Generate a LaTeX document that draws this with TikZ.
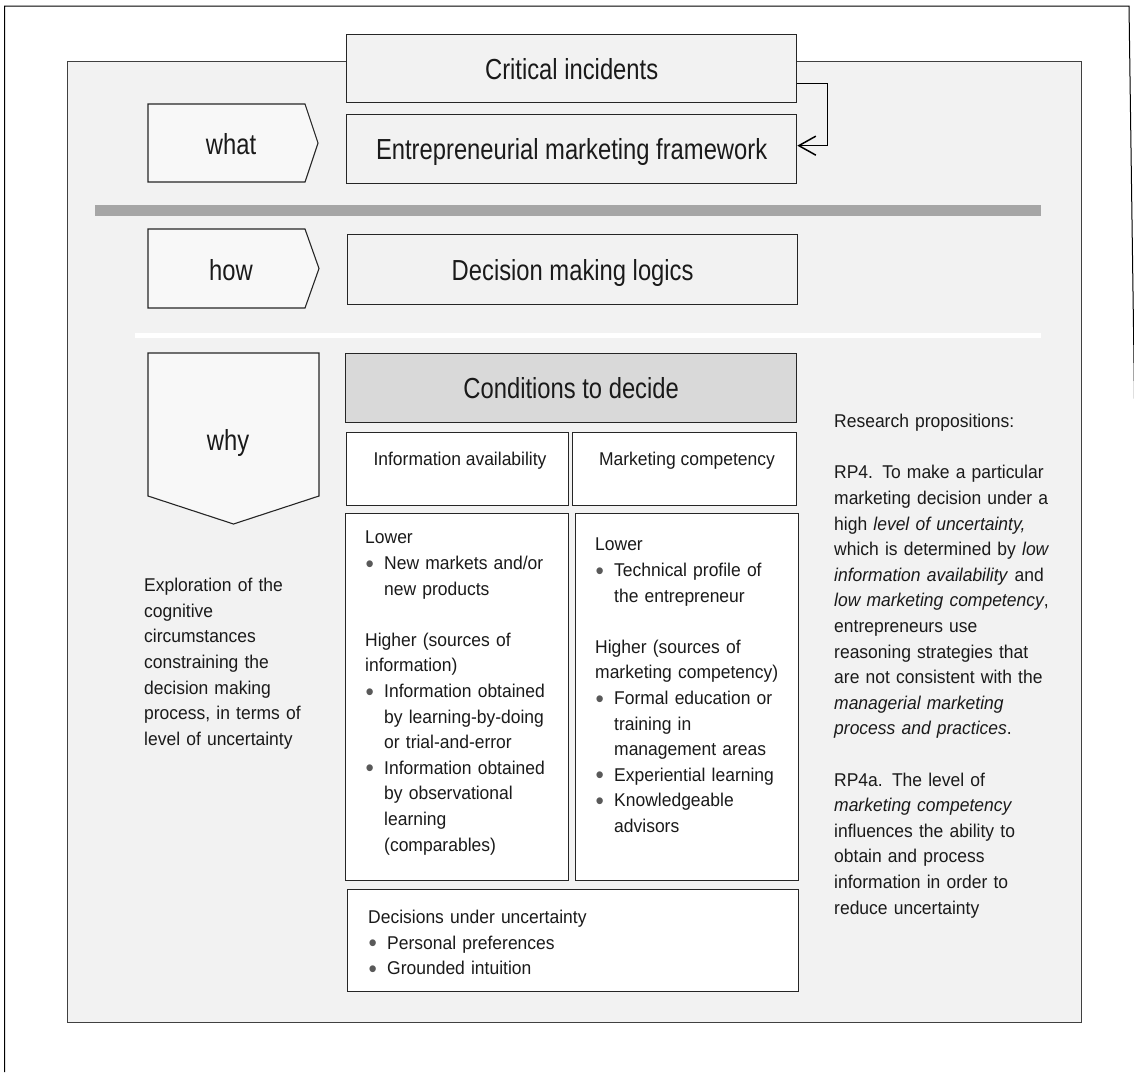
\documentclass[tikz,border=0pt]{standalone}
\usepackage{fontspec}
\setmainfont{Liberation Sans}
\newfontfamily\bodyfont[FakeStretch=0.945]{Liberation Sans}
\newfontfamily\titlefont[FakeStretch=0.82]{Liberation Sans}
\usetikzlibrary{arrows.meta}
\setlength{\parindent}{0pt}
\definecolor{panelfill}{HTML}{F2F2F2}
\definecolor{pentfill}{HTML}{F8F8F8}
\definecolor{condfill}{HTML}{D9D9D9}
\definecolor{barcol}{HTML}{A6A6A6}
\definecolor{boxline}{HTML}{262626}
\definecolor{panelline}{HTML}{404040}
\definecolor{bulgray}{HTML}{595959}
\definecolor{txt}{HTML}{1A1A1A}
\newcommand\bul{\makebox[19pt][l]{\hspace{0.5pt}\raisebox{-2.6pt}{\fontsize{25}{0}\selectfont\textcolor{bulgray}{\textbullet}}}}
\newcommand\ind{\hspace*{19pt}}
\begin{document}
\begin{tikzpicture}[x=1pt,y=-1pt,
  titlebox/.style={draw=boxline, line width=1.3pt, fill=panelfill, inner sep=0pt, anchor=north west,
    font=\titlefont\fontsize{29}{31}\selectfont, text=txt, text height=21pt, text depth=0pt},
  subbox/.style={draw=boxline, line width=1.3pt, fill=white, inner sep=0pt, anchor=north west},
  pent/.style={draw=boxline, line width=1.1pt, fill=pentfill, line join=miter},
  pentlabel/.style={font=\titlefont\fontsize{29}{31}\selectfont, text=txt, anchor=base},
  bodytext/.style={font=\bodyfont\fontsize{18.5}{25.6}\selectfont, text=txt, inner sep=0pt, anchor=north west, align=left},
  headtext/.style={font=\bodyfont\fontsize{18.5}{25.6}\selectfont, text=txt, inner sep=0pt, anchor=base},
  conn/.style={draw=black, line width=1.5pt, -{Straight Barb[length=17pt,width=19pt,line width=1.5pt]}}
]
\useasboundingbox (0,0) rectangle (1134,1072);
% outer frame
\draw[black, line width=1pt] (4.5,1072) -- (4.5,6) -- (1129,6) -- (1134.5,400);
% panel
\node[draw=panelline, line width=1pt, fill=panelfill, minimum width=1014pt, minimum height=961pt, anchor=north west, inner sep=0pt] (panel) at (67,61) {};
% separators
\fill[barcol] (95,205) rectangle (1041,216);
\fill[white] (135,333) rectangle (1041,338);
% pentagons
\draw[pent] (148,104) -- (305,104) -- (318,143) -- (305,182) -- (148,182) -- cycle;
\node[pentlabel] (what) at (231,154) {what};
\draw[pent] (148,229) -- (305,229) -- (319,268.5) -- (305,308) -- (148,308) -- cycle;
\node[pentlabel] (how) at (231,280) {how};
\draw[pent] (148,353) -- (319,353) -- (319,496) -- (233.5,524) -- (148,496) -- cycle;
\node[pentlabel] (why) at (228,450) {why};
% title boxes
\node[titlebox, minimum width=450pt, minimum height=68pt] (crit) at (346,34) {Critical incidents};
\node[titlebox, minimum width=450pt, minimum height=69pt] (emf) at (346,114) {Entrepreneurial marketing framework};
\node[titlebox, minimum width=450pt, minimum height=70pt] (dml) at (347,234) {Decision making logics};
\node[titlebox, fill=condfill, minimum width=451pt, minimum height=69pt] (cond) at (345,353) {Conditions to decide};
% connector
\draw[conn] ([yshift=-15pt]crit.east) -- ++(30,0) |- ([yshift=3.5pt]emf.east);
% sub boxes
\node[subbox, minimum width=222pt, minimum height=73pt] (infoh) at (346,432) {};
\node[subbox, minimum width=224pt, minimum height=73pt] (mkth) at (572,432) {};
\node[subbox, minimum width=223pt, minimum height=367pt] (infob) at (345,513) {};
\node[subbox, minimum width=223pt, minimum height=367pt] (mktb) at (575,513) {};
\node[subbox, minimum width=451pt, minimum height=102pt] (dec) at (347,889) {};
% header texts
\node[headtext] (infohT) at (460,465) {Information availability};
\node[headtext] (mkthT) at (687,465) {Marketing competency};
% body texts
\node[bodytext, text width=205pt] (infobT) at (365,531) {Lower\\
\bul New markets and/or\\
\ind new products\\[25.6pt]
Higher (sources of\\
information)\\
\bul Information obtained\\
\ind by learning-by-doing\\
\ind or trial-and-error\\
\bul Information obtained\\
\ind by observational\\
\ind learning\\
\ind (comparables)};
\node[bodytext, text width=205pt] (mktbT) at (595,538) {Lower\\
\bul Technical profile of\\
\ind the entrepreneur\\[25.6pt]
Higher (sources of\\
marketing competency)\\
\bul Formal education or\\
\ind training in\\
\ind management areas\\
\bul Experiential learning\\
\bul Knowledgeable\\
\ind advisors};
\node[bodytext, text width=300pt] (decT) at (368,910) {Decisions under uncertainty\\
\bul Personal preferences\\
\bul Grounded intuition};
\node[bodytext, text width=195pt] (explT) at (144,578) {Exploration of the\\
cognitive\\
circumstances\\
constraining the\\
decision making\\
process, in terms of\\
level of uncertainty};
\node[bodytext, text width=240pt] (rpT) at (834,414) {Research propositions:\\[25.6pt]
RP4. To make a particular\\
marketing decision under a\\
high \textit{level of uncertainty,}\\
which is determined by \textit{low}\\
\textit{information availability} and\\
\textit{low marketing competency},\\
entrepreneurs use\\
reasoning strategies that\\
are not consistent with the\\
\textit{managerial marketing}\\
\textit{process and practices}.\\[25.6pt]
RP4a. The level of\\
\textit{marketing competency}\\
influences the ability to\\
obtain and process\\
information in order to\\
reduce uncertainty};
\end{tikzpicture}
\end{document}
